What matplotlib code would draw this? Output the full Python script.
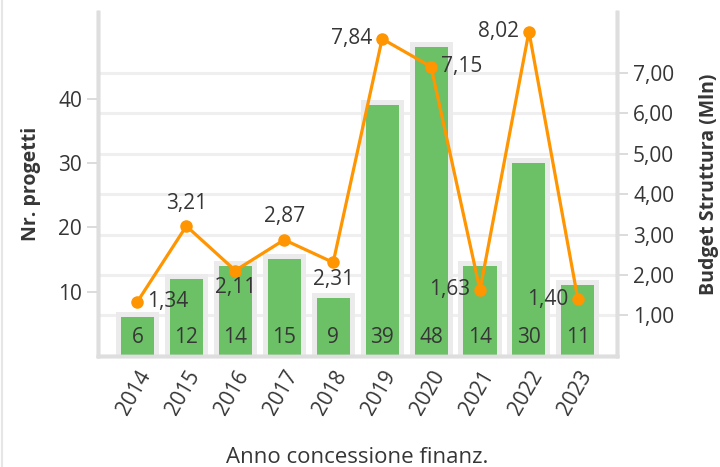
import numpy as np
import matplotlib.pyplot as plt
from matplotlib.lines import Line2D

plt.rcParams['font.family'] = ['Open Sans', 'DejaVu Sans']

anni = ['2014', '2015', '2016', '2017', '2018', '2019', '2020', '2021', '2022', '2023']
progetti = [6, 12, 14, 15, 9, 39, 48, 14, 30, 11]
budget = [1.34, 3.21, 2.11, 2.87, 2.31, 7.84, 7.15, 1.63, 8.02, 1.40]
# where each budget label sits relative to its point
label_pos = ['right', 'above', 'below', 'above', 'below', 'left', 'right', 'left', 'left', 'left']

testo = '#363636'
verde = '#6cc167'
arancio = '#ff9500'

fig = plt.figure(figsize=(7.2, 4.67), dpi=100)
ax = fig.add_axes([0.136, 0.238, 0.721, 0.736])
ax2 = ax.twinx()

x = np.arange(len(anni))

# grey halo behind bars, then green bars
ax.bar(x, np.array(progetti) + 0.8, width=0.88, color='#ebebeb', zorder=1)
ax.bar(x, progetti, width=0.675, color=verde, zorder=2)
for xi, v in zip(x, progetti):
    ax.annotate(str(v), (xi, 0), xytext=(0, 13), textcoords='offset points',
                ha='center', va='center', fontsize=15, color=testo, zorder=3)

ax.set_xlim(-0.807, 9.8)
ax.set_ylim(0, 53.5)
ax.set_yticks([10, 20, 30, 40])
ax.set_xticks(x)
ax.set_xticklabels(anni, rotation=60, ha='right', rotation_mode='anchor', fontsize=15, color=testo)
ax.tick_params(axis='y', labelsize=15, labelcolor=testo, color='#d6d6d6', length=8, width=1.2)
ax.tick_params(axis='x', length=0, pad=8)
ax.set_ylabel('Nr. progetti', fontsize=14, fontweight='bold', color=testo, labelpad=12)
ax.set_xlabel('Anno concessione finanz.', fontsize=16, color=testo, labelpad=20)

ax2.set_ylim(0, 8.5)
ax2.set_yticks([1, 2, 3, 4, 5, 6, 7])
ax2.set_yticklabels([('%.2f' % t).replace('.', ',') for t in [1, 2, 3, 4, 5, 6, 7]])
ax2.tick_params(axis='y', labelsize=15, labelcolor=testo, color='#d6d6d6', length=8, width=1.2)
ax2.set_ylabel('Budget Struttura (Mln)', fontsize=14, fontweight='bold', color=testo, labelpad=18)
ax2.yaxis.grid(True, color='#efefef', linewidth=2.2, zorder=0)
ax2.set_axisbelow(True)

# bars above grid, line on top of everything
ax.set_zorder(1)
ax.patch.set_visible(False)
ax2.set_zorder(0)
ax2.patch.set_facecolor('white')

lax = ax.twinx()
lax.set_ylim(0, 8.5)
lax.set_yticks([])
lax.set_zorder(2)
lax.patch.set_visible(False)
lax.plot(x, budget, color=arancio, linewidth=2.3, marker='o', markersize=8, zorder=5)
offs = {'right': (7, 0, 'left', 'center'), 'left': (-7, 0, 'right', 'center'),
        'above': (0, 9, 'center', 'bottom'), 'below': (0, -5, 'center', 'top')}
for xi, b, p in zip(x, budget, label_pos):
    dx, dy, ha, va = offs[p]
    lax.annotate(('%.2f' % b).replace('.', ','), (xi, b), xytext=(dx, dy), textcoords='offset points',
                 ha=ha, va=va, fontsize=15, color=testo)

for a in (ax, ax2, lax):
    a.spines['top'].set_visible(False)
    for s in ('left', 'right', 'bottom'):
        a.spines[s].set_color('#dedede')
        a.spines[s].set_linewidth(2.5)

# thin frame line on the left edge of the picture
fig.lines.append(Line2D([0.003, 0.003], [0, 1], transform=fig.transFigure,
                        color='#e6e6e6', linewidth=1.5))

fig.savefig('out.png', dpi=100)
